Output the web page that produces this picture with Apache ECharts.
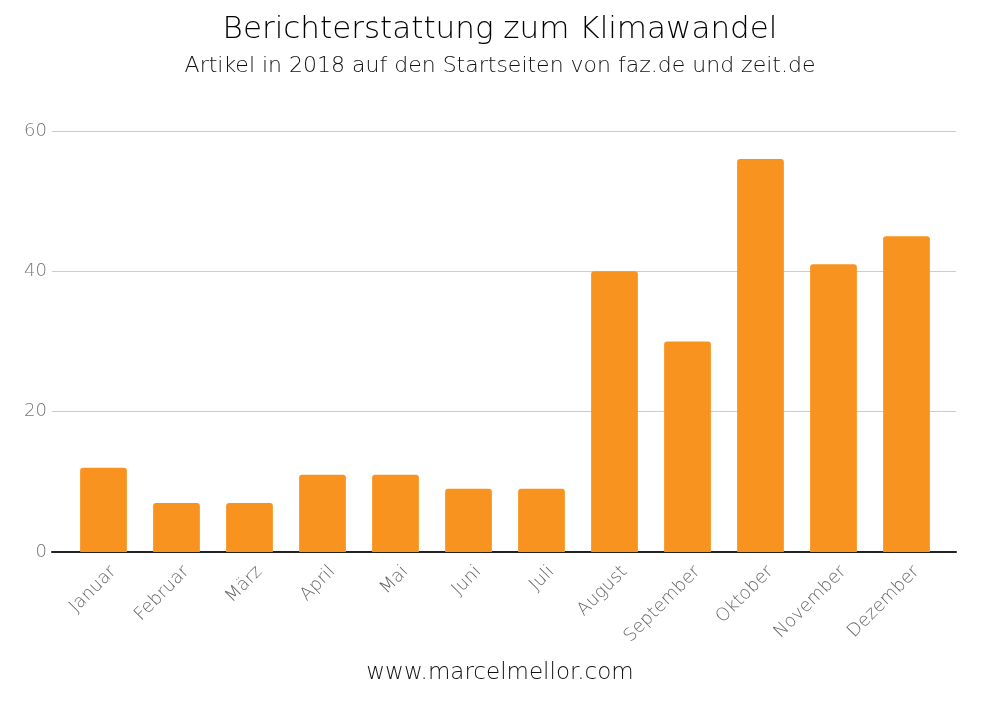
<!DOCTYPE html>
<html><head><meta charset="utf-8">
<script src="https://cdn.jsdelivr.net/npm/echarts@6/dist/echarts.min.js"></script>
<style>html,body{margin:0;padding:0;background:#fff}#c{width:1000px;height:708px}</style>
</head><body><div id="c"></div>
<script>
const categories = ['Januar','Februar','März','April','Mai','Juni','Juli','August','September','Oktober','November','Dezember'];
const values = [12, 7, 7, 11, 11, 9, 9, 40, 30, 56, 41, 45];
const yTicks = [0, 20, 40, 60];
const FONT = 'DejaVu Sans';
const W = 200;
const chart = echarts.init(document.getElementById('c'), null, {renderer:'canvas'});
chart.setOption({
  backgroundColor:'#fff',
  animation:false,
  title:[
    {text:'Berichterstattung zum Klimawandel', left:'center', top:9, textStyle:{fontFamily:FONT, fontSize:31, fontWeight:W, color:'#000'}},
    {text:'Artikel in 2018 auf den Startseiten von faz.de und zeit.de', left:'center', top:50, textStyle:{fontFamily:FONT, fontSize:22, fontWeight:W, color:'#111'}},
    {text:'www.marcelmellor.com', left:'center', top:657, textStyle:{fontFamily:FONT, fontSize:23, fontWeight:W, color:'#111'}}
  ],
  grid:[
    {left:52, right:44, top:131, bottom:156},
    {left:67, right:57, top:131, bottom:156},
    {left:77, right:47, top:131, bottom:156}
  ],
  xAxis:[
    {gridIndex:0, type:'value', min:0, max:1, show:true, axisLine:{show:true, lineStyle:{color:'#222', width:2}}, axisTick:{show:false}, axisLabel:{show:false}, splitLine:{show:false}},
    {gridIndex:1, type:'category', data:categories, axisLine:{show:false}, axisTick:{show:false}, axisLabel:{show:false}},
    {gridIndex:2, type:'category', data:categories, axisLine:{show:false}, axisTick:{show:false},
     axisLabel:{rotate:45, interval:0, margin:17, fontFamily:FONT, fontSize:18, fontWeight:W, color:'#666'}}
  ],
  yAxis:[
    {gridIndex:0, type:'value', min:yTicks[0], max:yTicks[yTicks.length-1], interval:20, axisLine:{show:false}, axisTick:{show:false},
     axisLabel:{margin:5, fontFamily:FONT, fontSize:18, fontWeight:W, color:'#777'}, splitLine:{lineStyle:{color:'#ccc', width:1}}},
    {gridIndex:1, type:'value', min:yTicks[0], max:yTicks[yTicks.length-1], interval:20, show:false, splitLine:{show:false}},
    {gridIndex:2, type:'value', min:yTicks[0], max:yTicks[yTicks.length-1], interval:20, show:false, splitLine:{show:false}}
  ],
  series:[
    {type:'bar', xAxisIndex:1, yAxisIndex:1, data:values, barWidth:'64%', itemStyle:{color:'#F7931E', borderRadius:[3,3,0,0]}, z:1}
  ]
});
</script></body></html>
